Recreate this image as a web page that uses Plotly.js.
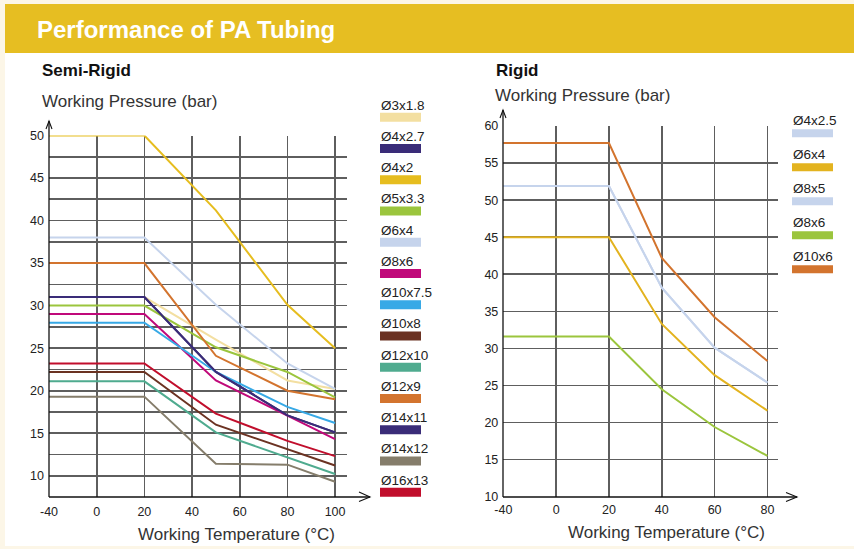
<!DOCTYPE html>
<html>
<head>
<meta charset="utf-8">
<script src="https://cdn.plot.ly/plotly-3.0.1.min.js"></script>
<style>
html,body{margin:0;padding:0;background:#fcf6e7;}
#chart{width:854px;height:549px;}
</style>
</head>
<body>
<div id="chart"></div>
<script>
// ---------- DATA ----------
// Semi-Rigid tubing (working pressure, bar) vs working temperature (°C)
var semiTemps = [-40, 20, 50, 80, 100];
var semiNames = ['Ø3x1.8','Ø4x2.7','Ø4x2','Ø5x3.3','Ø6x4','Ø8x6','Ø10x7.5','Ø10x8','Ø12x10','Ø12x9','Ø14x11','Ø14x12','Ø16x13'];
var semiColors = ['#f3dfa1','#3a2c78','#e6bd1f','#9bc53d','#c6d4ec','#c0097a','#37a9e6','#6b3222','#4fab8f','#d3742e','#3a2c78','#857d6b','#c10e2c'];
var s3x1_8  = [31, 31, 26.0, 21.2, 20.2];
var s4x2_7  = [31, 31, 22.2, 17.1, 15.1];
var s4x2    = [50, 50, 41.2, 30.1, 25.0];
var s5x3_3  = [30, 30, 25.1, 22.2, 19.2];
var s6x4    = [38, 38, 30.1, 23.2, 20.2];
var s8x6    = [29, 29, 21.2, 17.1, 14.3];
var s10x7_5 = [28, 28, 22.2, 18.1, 16.2];
var s10x8   = [22.2, 22.2, 16.0, 13.1, 11.2];
var s12x10  = [21.1, 21.1, 15.1, 12.2, 10.2];
var s12x9   = [35, 35, 24.1, 20.0, 19.0];
var s14x11  = [31, 31, 22.2, 17.1, 15.1];
var s14x12  = [19.3, 19.3, 11.4, 11.3, 9.3];
var s16x13  = [23.2, 23.2, 17.3, 14.1, 12.3];
var semiValues = [s3x1_8, s4x2_7, s4x2, s5x3_3, s6x4, s8x6, s10x7_5, s10x8, s12x10, s12x9, s14x11, s14x12, s16x13];

// Rigid tubing
var rigidTemps = [-40, 20, 40, 60, 80];
var rigidNames = ['Ø4x2.5','Ø6x4','Ø8x5','Ø8x6','Ø10x6'];
var rigidColors = ['#c6d4ec','#e3b31f','#c6d4ec','#9bc53d','#d3742e'];
var r4x2_5 = [51.9, 51.9, 38.2, 30.1, 25.4];
var r6x4   = [45.0, 45.0, 33.3, 26.4, 21.6];
var r8x5   = [51.9, 51.9, 38.2, 30.1, 25.4];
var r8x6   = [31.6, 31.6, 24.5, 19.4, 15.5];
var r10x6  = [57.7, 57.7, 42.2, 34.2, 28.3];
var rigidValues = [r4x2_5, r6x4, r8x5, r8x6, r10x6];

// tick labels (the -40 label sits at the axis origin, one grid step left of 0)
var semiTickVals = [-20, 0, 20, 40, 60, 80, 100];
var semiTickText = ['-40', '0', '20', '40', '60', '80', '100'];
var rigidTickVals = [-20, 0, 20, 40, 60, 80];
var rigidTickText = ['-40', '0', '20', '40', '60', '80'];

var titleText = 'Performance of PA Tubing';
var semiTitle = 'Semi-Rigid';
var rigidTitle = 'Rigid';
var yTitle = 'Working Pressure (bar)';
var xTitle = 'Working Temperature (°C)';

// ---------- LAYOUT HELPERS ----------
var W = 854, H = 549;
function X(px){ return px / W; }
function Y(py){ return 1 - py / H; }

var tickFont = {family: 'Liberation Sans, Arial, sans-serif', size: 12.5, color: '#222'};
var gridColor = '#5e5e5e';
var gridWidth = 1.7;

var traces = [];
semiValues.forEach(function(vals, i){
  traces.push({x: semiTemps, y: vals, type: 'scatter', mode: 'lines', name: semiNames[i],
    line: {color: semiColors[i], width: 2}, xaxis: 'x', yaxis: 'y', hoverinfo: 'skip', cliponaxis: true});
});
rigidValues.forEach(function(vals, i){
  traces.push({x: rigidTemps, y: vals, type: 'scatter', mode: 'lines', name: rigidNames[i],
    line: {color: rigidColors[i], width: 2}, xaxis: 'x2', yaxis: 'y2', hoverinfo: 'skip', cliponaxis: true});
});

var shapes = [
  // white panel and header band
  {type: 'rect', xref: 'paper', yref: 'paper', x0: X(5), x1: X(854), y0: Y(546), y1: Y(53), fillcolor: '#ffffff', line: {width: 0}, layer: 'below'},
  {type: 'rect', xref: 'paper', yref: 'paper', x0: X(5), x1: X(854), y0: Y(53), y1: Y(4), fillcolor: '#e6be22', line: {width: 0}, layer: 'below'},
  // axis lines
  {type: 'line', xref: 'paper', yref: 'paper', x0: X(49), x1: X(49), y0: Y(497), y1: Y(121), line: {color: '#111', width: 1.3}},
  {type: 'line', xref: 'paper', yref: 'paper', x0: X(49), x1: X(370), y0: Y(497), y1: Y(497), line: {color: '#111', width: 1.3}},
  {type: 'line', xref: 'paper', yref: 'paper', x0: X(503), x1: X(503), y0: Y(497), y1: Y(110), line: {color: '#111', width: 1.3}},
  {type: 'line', xref: 'paper', yref: 'paper', x0: X(503), x1: X(797), y0: Y(497), y1: Y(497), line: {color: '#111', width: 1.3}}
];
function chevron(pts){
  return {type: 'path', xref: 'paper', yref: 'paper',
    path: 'M' + X(pts[0][0]) + ',' + Y(pts[0][1]) + ' L' + X(pts[1][0]) + ',' + Y(pts[1][1]) + ' L' + X(pts[2][0]) + ',' + Y(pts[2][1]),
    line: {color: '#111', width: 1.1}};
}
shapes.push(chevron([[46, 129], [49, 121], [52, 129]]));
shapes.push(chevron([[359, 492], [370, 497], [359, 501.5]]));
shapes.push(chevron([[500, 118], [503, 110], [506, 118]]));
shapes.push(chevron([[786, 492.5], [797, 497], [786, 501.5]]));

var annotations = [
  {text: '<b>' + titleText + '</b>', xref: 'paper', yref: 'paper', x: X(35), y: Y(29), xanchor: 'left', yanchor: 'middle', showarrow: false,
    font: {family: 'Liberation Sans, Arial, sans-serif', size: 24, color: '#ffffff'}},
  {text: '<b>' + semiTitle + '</b>', xref: 'paper', yref: 'paper', x: X(40), y: Y(70), xanchor: 'left', yanchor: 'middle', showarrow: false,
    font: {family: 'Liberation Sans, Arial, sans-serif', size: 17, color: '#111'}},
  {text: '<b>' + rigidTitle + '</b>', xref: 'paper', yref: 'paper', x: X(494), y: Y(70), xanchor: 'left', yanchor: 'middle', showarrow: false,
    font: {family: 'Liberation Sans, Arial, sans-serif', size: 17, color: '#111'}},
  {text: yTitle, xref: 'paper', yref: 'paper', x: X(40), y: Y(102), xanchor: 'left', yanchor: 'middle', showarrow: false,
    font: {family: 'Liberation Sans, Arial, sans-serif', size: 17, color: '#333'}},
  {text: yTitle, xref: 'paper', yref: 'paper', x: X(493), y: Y(96), xanchor: 'left', yanchor: 'middle', showarrow: false,
    font: {family: 'Liberation Sans, Arial, sans-serif', size: 17, color: '#333'}},
  {text: xTitle, xref: 'paper', yref: 'paper', x: X(236.5), y: Y(534), xanchor: 'center', yanchor: 'middle', showarrow: false,
    font: {family: 'Liberation Sans, Arial, sans-serif', size: 17, color: '#333'}},
  {text: xTitle, xref: 'paper', yref: 'paper', x: X(666.5), y: Y(532), xanchor: 'center', yanchor: 'middle', showarrow: false,
    font: {family: 'Liberation Sans, Arial, sans-serif', size: 17, color: '#333'}}
];

var legendFont = {family: 'Liberation Sans, Arial, sans-serif', size: 13.5, color: '#222'};
semiNames.forEach(function(n, i){
  var top = 112.7 + i * 31.25;
  annotations.push({text: n, xref: 'paper', yref: 'paper', x: X(378.5), y: Y(top - 7.5), xanchor: 'left', yanchor: 'middle', showarrow: false, font: legendFont});
  shapes.push({type: 'rect', xref: 'paper', yref: 'paper', x0: X(380), x1: X(421), y0: Y(top + 9), y1: Y(top), fillcolor: semiColors[i], line: {width: 0}});
});
rigidNames.forEach(function(n, i){
  var top = 129.3 + i * 34;
  annotations.push({text: n, xref: 'paper', yref: 'paper', x: X(790.5), y: Y(top - 9), xanchor: 'left', yanchor: 'middle', showarrow: false, font: legendFont});
  shapes.push({type: 'rect', xref: 'paper', yref: 'paper', x0: X(792), x1: X(833), y0: Y(top + 8), y1: Y(top), fillcolor: rigidColors[i], line: {width: 0}});
});

var axisCommon = {showgrid: true, gridcolor: gridColor, gridwidth: gridWidth, zeroline: false, showline: false,
  ticks: '', tickfont: tickFont, fixedrange: true};

var layout = {
  width: W, height: H,
  margin: {l: 0, r: 0, t: 0, b: 0},
  paper_bgcolor: '#fcf6e7',
  plot_bgcolor: 'rgba(0,0,0,0)',
  showlegend: false,
  xaxis: Object.assign({}, axisCommon, {domain: [X(49), X(347)], range: [-20, 105], tickmode: 'array',
    tickvals: semiTickVals, ticktext: semiTickText, anchor: 'y', ticklabelstandoff: 5}),
  yaxis: Object.assign({}, axisCommon, {domain: [Y(497), Y(135.5)], range: [7.5, 50], tickmode: 'linear', tick0: 10, dtick: 5,
    minor: {tick0: 7.5, dtick: 2.5, showgrid: true, gridcolor: gridColor, gridwidth: gridWidth, ticks: ''}, anchor: 'x', ticklabelstandoff: 4}),
  xaxis2: Object.assign({}, axisCommon, {domain: [X(503.3), X(778)], range: [-20, 84], tickmode: 'array',
    tickvals: rigidTickVals, ticktext: rigidTickText, anchor: 'y2', ticklabelstandoff: 4}),
  yaxis2: Object.assign({}, axisCommon, {domain: [Y(496.7), Y(126)], range: [10, 60], tickmode: 'linear', tick0: 10, dtick: 5,
    anchor: 'x2', ticklabelstandoff: 4}),
  shapes: shapes,
  annotations: annotations
};

Plotly.newPlot('chart', traces, layout, {displayModeBar: false, staticPlot: true});
</script>
</body>
</html>
